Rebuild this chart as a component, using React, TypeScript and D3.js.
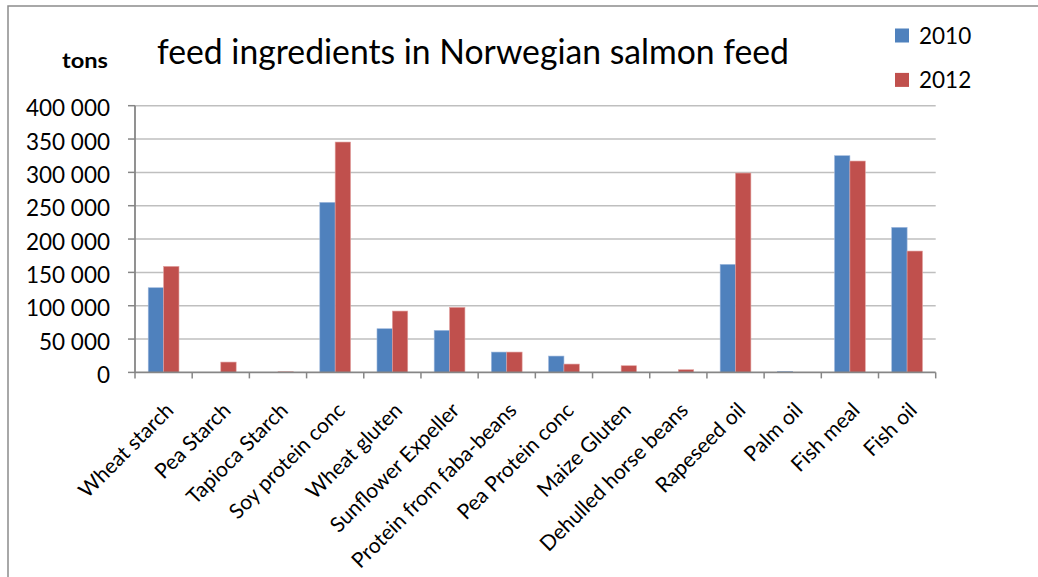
import React from "react";
import * as d3 from "d3";

const categories = [
  "Wheat starch",
  "Pea Starch",
  "Tapioca Starch",
  "Soy protein conc",
  "Wheat gluten",
  "Sunflower Expeller",
  "Protein from faba-beans",
  "Pea Protein conc",
  "Maize Gluten",
  "Dehulled horse beans",
  "Rapeseed oil",
  "Palm oil",
  "Fish meal",
  "Fish oil",
];
const values2010 = [127000, 0, 0, 255000, 65500, 63000, 30500, 24500, 0, 0, 162000, 1500, 325000, 217500];
const values2012 = [159000, 15500, 1000, 345500, 92000, 97500, 30500, 12500, 10000, 4000, 299000, 0, 317000, 182000];
const seriesNames = ["2010", "2012"];
const yTicks = [0, 50000, 100000, 150000, 200000, 250000, 300000, 350000, 400000];

const W = 1038;
const H = 577;
const plot = { left: 135, right: 935.7, top: 105.7, bottom: 372.4 };
const colors = ["#4F81BD", "#C0504D"];
const font = "Lato, 'Open Sans', 'Liberation Sans', sans-serif";

const fmt = (v: number) => {
  const s = d3.format(",")(v);
  return s.replace(/,/g, " ");
};

export default function App() {
  const x = d3.scaleBand<string>().domain(categories).range([plot.left, plot.right]).paddingInner(0).paddingOuter(0);
  const inner = d3
    .scaleBand<string>()
    .domain(seriesNames)
    .range([0, x.bandwidth()])
    .paddingInner(0)
    .paddingOuter(0.86);
  const y = d3.scaleLinear().domain([0, 400000]).range([plot.bottom, plot.top]);
  const series = [values2010, values2012];

  return (
    <svg
      width={W}
      height={H}
      style={{ position: "absolute", left: 0, top: 0, background: "#fff" }}
      fontFamily={font}
    >
      <rect x={0} y={0} width={W} height={H} fill="#fff" />
      {/* outer chart border */}
      <path d={`M8,${H + 5} L8,6 L${W + 5},6`} fill="none" stroke="#8c8c8c" strokeWidth={1.5} />

      {/* gridlines */}
      {yTicks.map((t) =>
        t === 0 ? null : (
          <line key={"g" + t} x1={plot.left} x2={plot.right} y1={y(t)} y2={y(t)} stroke="#BFBFBF" strokeWidth={1.5} />
        )
      )}

      {/* bars */}
      {series.map((vals, si) =>
        categories.map((c, i) =>
          vals[i] > 0 ? (
            <rect
              key={si + "-" + c}
              x={(x(c) as number) + (inner(seriesNames[si]) as number)}
              y={y(vals[i])}
              width={inner.bandwidth()}
              height={y(0) - y(vals[i])}
              fill={colors[si]}
              stroke={si === 0 ? "#9db7dc" : "#e2a09e"}
              strokeWidth={0.6}
            />
          ) : null
        )
      )}

      {/* y axis */}
      <line x1={plot.left} x2={plot.left} y1={plot.top} y2={plot.bottom} stroke="#868686" strokeWidth={1.8} />
      {yTicks.map((t) => (
        <g key={"yt" + t}>
          <line x1={plot.left - 7} x2={plot.left} y1={y(t)} y2={y(t)} stroke="#868686" strokeWidth={1.5} />
          <text x={110} y={y(t) + 10.5} textAnchor="end" fontSize={22.5} fill="#000">
            {fmt(t)}
          </text>
        </g>
      ))}

      {/* x axis */}
      <line x1={plot.left} x2={plot.right} y1={plot.bottom} y2={plot.bottom} stroke="#868686" strokeWidth={1.8} />
      {categories.map((c) => (
        <line
          key={"xt" + c}
          x1={x(c) as number}
          x2={x(c) as number}
          y1={plot.bottom}
          y2={plot.bottom + 6}
          stroke="#868686"
          strokeWidth={1.5}
        />
      ))}
      <line x1={plot.right} x2={plot.right} y1={plot.bottom} y2={plot.bottom + 6} stroke="#868686" strokeWidth={1.5} />
      {categories.map((c) => {
        const cx = (x(c) as number) + x.bandwidth() / 2;
        return (
          <text
            key={"xl" + c}
            transform={`translate(${cx + 6},${plot.bottom + 34}) rotate(-45)`}
            textAnchor="end"
            fontSize={21}
            fill="#000"
            dy="0.35em"
          >
            {c}
          </text>
        );
      })}

      {/* titles */}
      <text x={157} y={63.5} fontSize={34} fill="#000" textLength={632} lengthAdjust="spacingAndGlyphs">
        feed ingredients in Norwegian salmon feed
      </text>
      <text x={62} y={68} fontSize={20.5} fontWeight="bold" fill="#000" textLength={46} lengthAdjust="spacingAndGlyphs">
        tons
      </text>

      {/* legend */}
      {seriesNames.map((s, i) => (
        <g key={"lg" + s}>
          <rect x={895} y={28.5 + i * 44.4} width={14} height={14} fill={colors[i]} />
          <text x={919} y={44.3 + i * 44} fontSize={22.5} fill="#000">
            {s}
          </text>
        </g>
      ))}
    </svg>
  );
}
